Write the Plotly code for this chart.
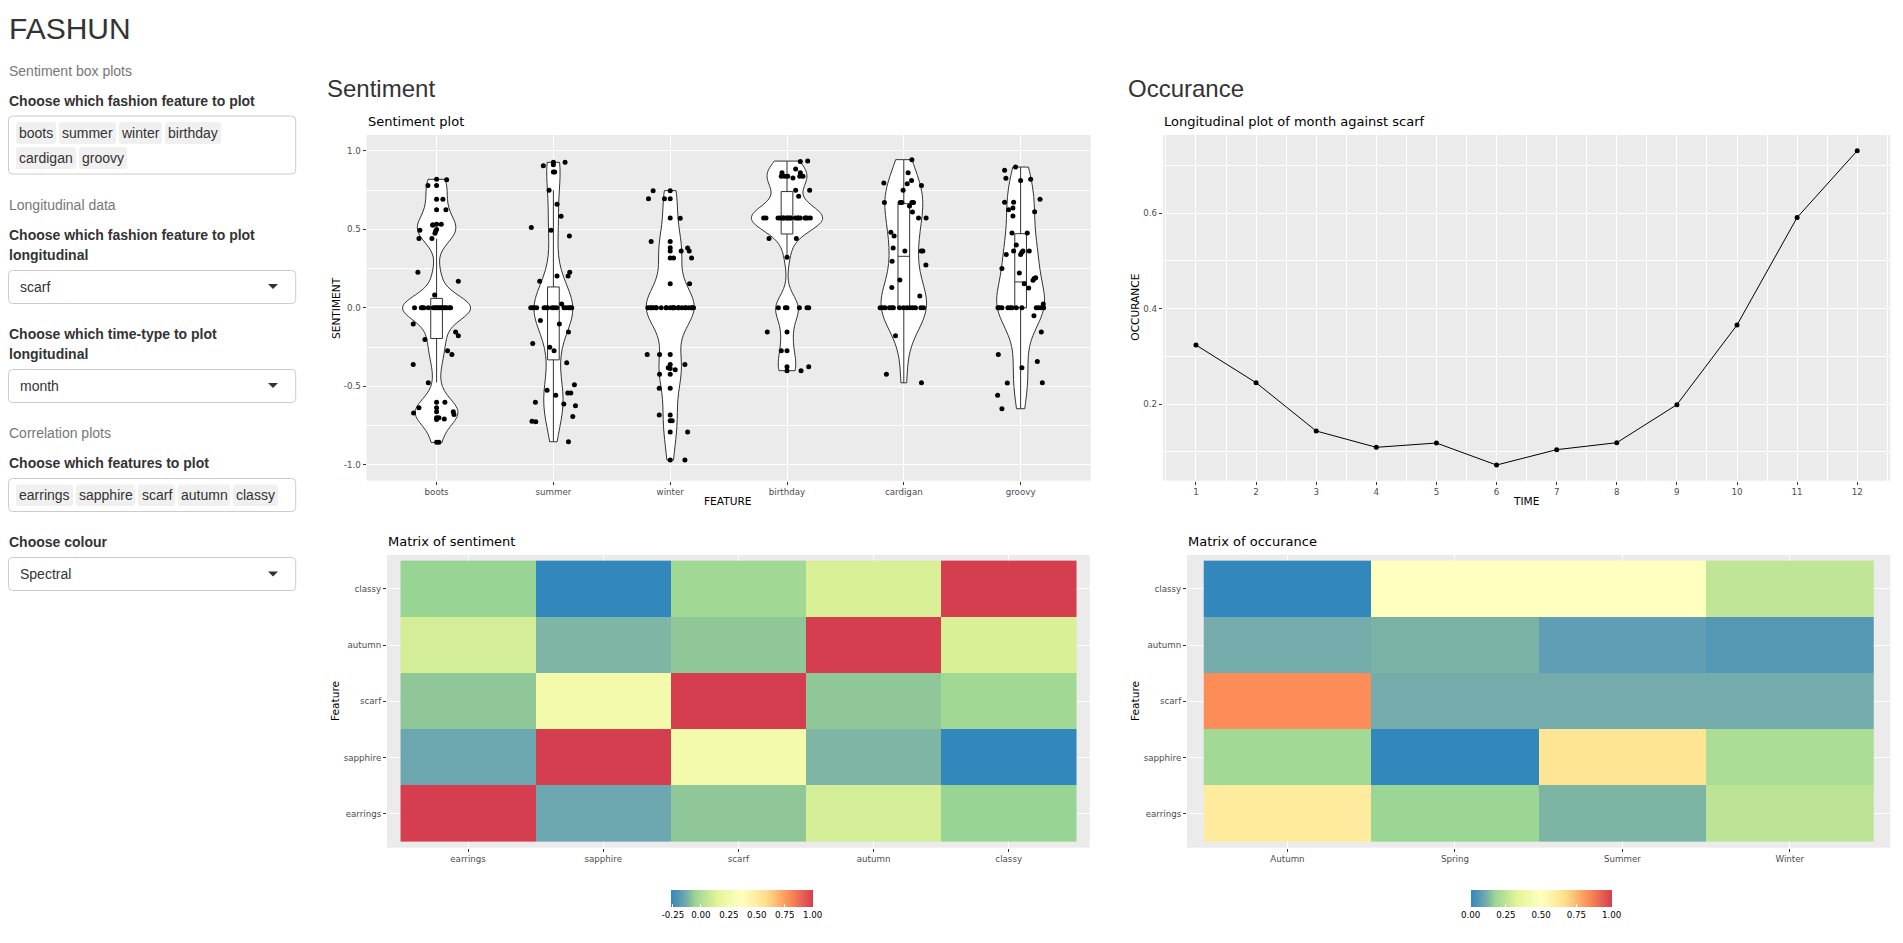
import plotly.graph_objects as go

# page coordinates: the browser puts the figure 8px in from the top left
PAGE_W, PAGE_H = 1903, 943
OFFSET = 8
FIG_W, FIG_H = PAGE_W - 2 * OFFSET, PAGE_H - 2 * OFFSET

FEATURES = ["boots", "summer", "winter", "birthday", "cardigan", "groovy"]

# sentiment values per feature, with the sideways jitter of each dot
boots_y = [.816, .818, .778, .778, .691, .691, .625, .625, .528, .532, .532, .528, .494, .498, .487, .475,
           .441, .441, .227, .169, .081, 0, 0, 0, 0, 0, 0, 0, 0, 0, 0, 0, 0, 0, 0, 0, 0,
           -.102, -.153, -.178, -.201, -.273, -.297, -.36, -.477, -.6, -.6, -.636, -.636, -.661, -.661,
           -.669, -.678, -.699, -.699, -.71, -.708, -.856, -.856]
boots_j = [.086, 0, -.074, 0, 0, .054, 0, .08, -.031, 0, .04, -.034, -.143, 0, -.009, -.014,
           -.151, -.04, -.16, .186, -.017, -.189, -.131, -.12, -.109, -.071, -.029, -.014, 0, .014, .029, .043,
           .057, .071, .086, .109, .12,
           -.2, .163, .186, -.1, .094, .131, -.2, -.071, 0, .071, -.151, 0, 0, .143,
           -.197, .149, 0, .02, 0, .066, 0, .02]
summer_y = [.926, .926, .911, .905, .864, .864, .748, .659, .583, .511, .494, .458, .227, .203, .203, .169, .025,
            0, 0, 0, 0, 0, 0, 0, 0, 0, 0, 0, 0, 0, 0, 0,
            -.081, -.102, -.153, -.227, -.25, -.273, -.35, -.489, -.525, -.542, -.542, -.557, -.612, -.6,
            -.623, -.691, -.722, -.725, -.852]
summer_j = [.1, 0, 0, -.086, 0, .011, -.037, .031, .066, -.189, -.02, .137, .14, .126, .031, -.117, .071,
            -.194, -.177, -.163, -.143, -.08, -.063, -.049, -.011, .006, .029, .091, .109, .129, .143, .157,
            -.111, .051, .129, -.177, -.031, .006, .114, .18, -.054, .123, .149, .02, .089, -.154,
            .189, .166, -.183, -.151, .129]
winter_y = [.746, .746, .695, .695, .695, .572, .57, .422, .422, .383, .362, .381, .362, .362, .318, .318, .318,
            .153, .153, 0, 0, 0, 0, 0, 0, 0, 0, 0, 0, 0, 0, 0, 0, 0, 0, 0, 0, 0, 0, 0, 0,
            -.297, -.297, -.297, -.36, -.36, -.381, -.386, -.394, -.422, -.422, -.511, -.511, -.682, -.682,
            -.718, -.718, -.79, -.79, -.968, -.968]
winter_j = [-.146, 0, -.186, -.049, 0, 0, .086, -.163, 0, 0, 0, .149, .163, .094, 0, .029, .183,
            0, .166, -.191, -.171, -.157, -.143, -.12, -.077, -.034, 0, .023, .037, .071, .1, .129, .157, .186, .2,
            -.12, -.034, .023, .071, .129, .186,
            -.197, -.091, 0, .126, 0, -.017, 0, .043, 0, -.091, -.094, 0, -.094, 0,
            0, .017, 0, .149, 0, .126]
birthday_y = [.934, .932, .883, .86, .86, .837, .837, .837, .826, .837, .837, .748, .748, .71,
              .572, .572, .572, .572, .572, .572, .572, .572, .572, .572, .572, .572, .572, .572,
              .572, .572, .572, .572, .572,
              .441, .441, .322, 0, 0, 0, 0, 0, 0,
              -.153, -.153, -.273, -.273, -.375, -.375, -.4, -.4]
birthday_j = [.177, .114, .074, -.043, .114, -.049, -.02, .006, .051, .109, .137, .074, .194, .1,
              -.2, -.18, -.077, -.057, -.034, -.014, .006, .029, .071, .094, .114, .157, .177, .2,
              -.034, .006, .029, .094, .157,
              -.154, .08, 0, -.074, -.014, 0, .106, .171, .186,
              -.169, 0, -.049, 0, .186, 0, .12, 0]
cardigan_y = [.943, .86, .811, .794, .79, .778, .748, .67, .67, .67, .67, .67, .648, .61, .572, .572,
              .481, .458, .381, .362, .362, .362, .297, .273, .178, .129, .076,
              0, 0, 0, 0, 0, 0, 0, 0, 0, 0, 0, 0, 0, 0, -.178, -.422, -.477]
cardigan_j = [.069, .037, .066, -.171, .029, .151, -.006, -.166, -.031, -.017, .069, .083, .049, .074, .126, .191,
              -.111, -.083, -.091, .009, .149, .163, -.1, .189, -.034, -.103, .137,
              -.203, -.18, -.16, -.123, -.103, -.089, -.037, -.003, .026, .054, .077, .1, .146, .169,
              -.071, -.149, .151]
groovy_y = [.896, .875, .824, .811, .818, .691, .672, .672, .636, .625, .612, .585, .477, .477, .4, .362,
            .362, .354, .362, .339, .339, .25, .222, .191, .186, .176, .153, .127, .025,
            0, 0, 0, 0, 0, 0, 0, 0, 0, 0, 0, 0,
            -.051, -.153, -.297, -.341, -.381, -.479, -.477, -.557, -.642]
groovy_j = [-.043, -.137, -.126, 0, .086, .166, -.137, -.06, -.066, -.103, .12, -.066, -.074, .057, -.037, -.06,
            .02, .011, .074, 0, -.123, -.16, -.011, .129, .117, .106, .031, .069, .194,
            -.194, -.18, -.16, -.109, -.089, -.074, -.037, .011, .134, .154, .177, .197,
            .114, .177, -.191, .143, .011, -.114, .186, -.197, -.16]

FEATURE_Y = [boots_y, summer_y, winter_y, birthday_y, cardigan_y, groovy_y]
FEATURE_J = [boots_j, summer_j, winter_j, birthday_j, cardigan_j, groovy_j]

# box plot statistics and violin settings
BOX_Q1 = [-.195, -.331, 0, .47, 0, 0]
BOX_MED = [0, 0, 0, .572, .328, .165]
BOX_Q3 = [.06, .133, 0, .74, .663, .472]
BOX_LOW = [-.474, -.85, 0, .32, -.477, -.642]
BOX_HIGH = [.44, .748, 0, .934, .943, .896]
BANDWIDTH = [.077, .14, .13, .08, .155, .14]
VIOLIN_WIDTH = [.58, .33, .41, .61, .39, .41]

MONTHS = [1, 2, 3, 4, 5, 6, 7, 8, 9, 10, 11, 12]
SCARF_OCCURANCE = [.3236, .2446, .1435, .1093, .1183, .0722, .1044, .119, .1986, .3654, .5906, .7305]

MATRIX_FEATURES = ["earrings", "sapphire", "scarf", "autumn", "classy"]
SENTIMENT_MATRIX = [
    [1, -.151, -.08, .105, -.06],
    [-.151, 1, .263, -.113, -.27],
    [-.08, .263, 1, -.08, -.04],
    [.105, -.113, -.08, 1, .12],
    [-.06, -.27, -.04, .12, 1],
]
SEASONS = ["Autumn", "Spring", "Summer", "Winter"]
OCCURANCE_MATRIX = [
    [.608, .17, .122, .242],
    [.186, 0, .64, .208],
    [.833, .105, .105, .105],
    [.105, .117, .073, .057],
    [0, .5, .5, .25],
]

# Spectral, with extra stops between blue and green where the source blends through grey teal
COLORSCALE = [
    [0, "#3288BD"], [.057, "#5598B4"], [.073, "#5F9EB4"], [.093, "#6CA7B0"], [.105, "#73ACAA"],
    [.123, "#7EB5A4"], [.148, "#8EC698"], [1 / 6, "#99D594"], [2 / 6, "#E6F598"], [3 / 6, "#FFFFBF"],
    [4 / 6, "#FEE08B"], [5 / 6, "#FC8D59"], [1, "#D53E4F"],
]

SANS = "Liberation Sans, Arial, sans-serif"
DEJAVU = "DejaVu Sans, sans-serif"
DARK = "#333333"
MUTED = "#777777"
TICK = "#4D4D4D"
PANEL = "#EBEBEB"


def px(x):
    return (x - OFFSET) / FIG_W


def py(y):
    return 1 - (y - OFFSET) / FIG_H


def text(x, y, s, size=14, color=DARK, family=SANS, bold=False, angle=0, anchor="left"):
    if bold:
        s = f"<b>{s}</b>"
    return dict(x=px(x), y=py(y), xref="paper", yref="paper", text=s, showarrow=False,
                xanchor=anchor, yanchor="middle", textangle=angle, borderpad=0,
                font=dict(size=size, color=color, family=family))


def rounded(x0, y0, x1, y1, fill, line=None, r=4):
    # rounded rectangle, given in page pixels
    path = (f"M{px(x0 + r)},{py(y0)} L{px(x1 - r)},{py(y0)} Q{px(x1)},{py(y0)} {px(x1)},{py(y0 + r)} "
            f"L{px(x1)},{py(y1 - r)} Q{px(x1)},{py(y1)} {px(x1 - r)},{py(y1)} "
            f"L{px(x0 + r)},{py(y1)} Q{px(x0)},{py(y1)} {px(x0)},{py(y1 - r)} "
            f"L{px(x0)},{py(y0 + r)} Q{px(x0)},{py(y0)} {px(x0 + r)},{py(y0)} Z")
    return dict(type="path", path=path, xref="paper", yref="paper", fillcolor=fill,
                line=dict(color=line or fill, width=1 if line else 0))


def arrow(x, y):
    path = f"M{px(x - 5)},{py(y - 2.5)} L{px(x + 5)},{py(y - 2.5)} L{px(x)},{py(y + 2.5)} Z"
    return dict(type="path", path=path, xref="paper", yref="paper", fillcolor=DARK, line=dict(width=0))


fig = go.Figure()

# violins, boxes and jittered points
for i, name in enumerate(FEATURES):
    pos = i + 1
    fig.add_trace(go.Violin(
        x0=pos, y=FEATURE_Y[i], name=name, xaxis="x", yaxis="y", width=VIOLIN_WIDTH[i],
        bandwidth=BANDWIDTH[i], spanmode="hard", scalemode="width", points=False,
        fillcolor="white", line=dict(color=DARK, width=1), showlegend=False,
        box_visible=False, meanline_visible=False,
    ))
    fig.add_trace(go.Box(
        x=[pos], q1=[BOX_Q1[i]], median=[BOX_MED[i]], q3=[BOX_Q3[i]],
        lowerfence=[BOX_LOW[i]], upperfence=[BOX_HIGH[i]], name=name, xaxis="x", yaxis="y",
        width=.1, whiskerwidth=0, fillcolor="white", line=dict(color=DARK, width=1),
        boxpoints=False, showlegend=False,
    ))
    fig.add_trace(go.Scatter(
        x=[pos + j for j in FEATURE_J[i]], y=FEATURE_Y[i], mode="markers", name=name,
        xaxis="x", yaxis="y", marker=dict(color="black", size=5), showlegend=False,
    ))

# longitudinal line
fig.add_trace(go.Scatter(
    x=MONTHS, y=SCARF_OCCURANCE, mode="lines+markers", xaxis="x2", yaxis="y2",
    line=dict(color="black", width=1), marker=dict(color="black", size=5), showlegend=False,
))

# correlation matrices
fig.add_trace(go.Heatmap(
    z=SENTIMENT_MATRIX, x=MATRIX_FEATURES, y=MATRIX_FEATURES, xaxis="x3", yaxis="y3",
    colorscale=COLORSCALE, zmin=-.27, zmax=1,
    colorbar=dict(orientation="h", x=px(670.7), xanchor="left", y=py(890), yanchor="top",
                  lenmode="pixels", len=142, thicknessmode="pixels", thickness=17, xpad=0, ypad=0,
                  outlinewidth=0, ticks="inside", ticklen=3, tickcolor="white",
                  tickvals=[-.25, 0, .25, .5, .75, 1],
                  ticktext=["-0.25", "0.00", "0.25", "0.50", "0.75", "1.00"],
                  tickfont=dict(size=8.7, color="black", family=DEJAVU)),
))
fig.add_trace(go.Heatmap(
    z=OCCURANCE_MATRIX, x=SEASONS, y=MATRIX_FEATURES, xaxis="x4", yaxis="y4",
    colorscale=COLORSCALE, zmin=0, zmax=1,
    colorbar=dict(orientation="h", x=px(1470.7), xanchor="left", y=py(890), yanchor="top",
                  lenmode="pixels", len=141, thicknessmode="pixels", thickness=17, xpad=0, ypad=0,
                  outlinewidth=0, ticks="inside", ticklen=3, tickcolor="white",
                  tickvals=[0, .25, .5, .75, 1], tickformat=".2f",
                  tickfont=dict(size=8.7, color="black", family=DEJAVU)),
))

axis_style = dict(
    showgrid=True, gridcolor="white", gridwidth=1.2, zeroline=False, showline=False,
    ticks="outside", ticklen=3, tickwidth=1, tickcolor=DARK,
    tickfont=dict(size=8.7, color=TICK, family=DEJAVU),
)
minor_grid = dict(showgrid=True, gridcolor="white", gridwidth=.6, ticks="")

fig.update_layout(
    width=FIG_W, height=FIG_H, autosize=False,
    margin=dict(l=0, r=0, t=0, b=0, pad=0),
    paper_bgcolor="white", plot_bgcolor=PANEL, showlegend=False,
    violinmode="overlay", boxmode="overlay",
    xaxis=dict(domain=[px(366.5), px(1090.7)], range=[.4, 6.6], tickvals=[1, 2, 3, 4, 5, 6],
               ticktext=FEATURES, anchor="y", **axis_style),
    yaxis=dict(domain=[py(480.7), py(135)], range=[-1.1, 1.1], tickvals=[-1, -.5, 0, .5, 1],
               ticktext=["-1.0", "-0.5", "0.0", "0.5", "1.0"], anchor="x",
               minor=dict(dtick=.25, tick0=-1, **minor_grid), **axis_style),
    xaxis2=dict(domain=[px(1162.9), px(1890.3)], range=[.45, 12.55], tickvals=MONTHS, anchor="y2",
                minor=dict(dtick=.5, tick0=.5, **minor_grid), **axis_style),
    yaxis2=dict(domain=[py(480.7), py(135)], range=[.0394, .7634], tickvals=[.2, .4, .6], tickformat=".1f",
                anchor="x2", minor=dict(dtick=.1, tick0=.1, **minor_grid), **axis_style),
    xaxis3=dict(domain=[px(387), px(1089.8)], range=[-.6, 4.6], type="category", anchor="y3", **axis_style),
    yaxis3=dict(domain=[py(847.7), py(555)], range=[-.6, 4.6], type="category", anchor="x3", **axis_style),
    xaxis4=dict(domain=[px(1187), px(1890.3)], range=[-.6, 3.6], type="category", anchor="y4", **axis_style),
    yaxis4=dict(domain=[py(847.7), py(555)], range=[-.6, 4.6], type="category", anchor="x4", **axis_style),
)

# sidebar controls
shapes = [
    rounded(8.5, 116, 295.7, 174, "white", "#CCCCCC"),
    rounded(8.5, 270.5, 295.7, 303.5, "white", "#CCCCCC"),
    rounded(8.5, 369.5, 295.7, 402.5, "white", "#CCCCCC"),
    rounded(8.5, 478.5, 295.7, 511.5, "white", "#CCCCCC"),
    rounded(8.5, 557.5, 295.7, 590.5, "white", "#CCCCCC"),
    arrow(273, 286.5), arrow(273, 385.5), arrow(273, 574),
]

annotations = [
    text(8, 29, "FASHUN", size=30),
    text(8, 71, "Sentiment box plots", color=MUTED),
    text(8, 101, "Choose which fashion feature to plot", bold=True),
    text(8, 205, "Longitudinal data", color=MUTED),
    text(8, 235, "Choose which fashion feature to plot", bold=True),
    text(8, 255, "longitudinal", bold=True),
    text(19, 287, "scarf"),
    text(8, 334, "Choose which time-type to plot", bold=True),
    text(8, 354, "longitudinal", bold=True),
    text(19, 386, "month"),
    text(8, 433, "Correlation plots", color=MUTED),
    text(8, 463, "Choose which features to plot", bold=True),
    text(8, 542, "Choose colour", bold=True),
    text(19, 574, "Spectral"),
    text(326, 88, "Sentiment", size=24),
    text(1126.6, 88, "Occurance", size=24),
    text(366.5, 121.7, "Sentiment plot", size=13, color="black", family=DEJAVU),
    text(1163, 121.7, "Longitudinal plot of month against scarf", size=13, color="black", family=DEJAVU),
    text(387, 541.7, "Matrix of sentiment", size=13, color="black", family=DEJAVU),
    text(1187, 541.7, "Matrix of occurance", size=13, color="black", family=DEJAVU),
    # axis titles
    text(728, 501, "FEATURE", size=10.6, color="black", family=DEJAVU, anchor="center"),
    text(1526.6, 501, "TIME", size=10.6, color="black", family=DEJAVU, anchor="center"),
    text(336, 308, "SENTIMENT", size=10.6, color="black", family=DEJAVU, angle=-90, anchor="center"),
    text(1135, 307.7, "OCCURANCE", size=10.6, color="black", family=DEJAVU, angle=-90, anchor="center"),
    text(335, 701, "Feature", size=10.6, color="black", family=DEJAVU, angle=-90, anchor="center"),
    text(1135, 701, "Feature", size=10.6, color="black", family=DEJAVU, angle=-90, anchor="center"),
]

# selected tags: label, left, right, top, bottom
TAGS = [
    ("boots", 16, 56, 122, 144), ("summer", 59, 116, 122, 144), ("winter", 119, 162, 122, 144),
    ("birthday", 165, 221, 122, 144), ("cardigan", 16, 76, 147, 169), ("groovy", 79, 127, 147, 169),
    ("earrings", 16, 73, 484.5, 506), ("sapphire", 76, 135, 484.5, 506), ("scarf", 138, 175, 484.5, 506),
    ("autumn", 178, 230, 484.5, 506), ("classy", 233, 278, 484.5, 506),
]
for label, left, right, top, bottom in TAGS:
    shapes.append(rounded(left, top, right, bottom, "#F0F0F0", r=3))
    annotations.append(text((left + right) / 2, (top + bottom) / 2, label, anchor="center"))

fig.update_layout(shapes=shapes, annotations=annotations)

fig.write_html("out.html")
